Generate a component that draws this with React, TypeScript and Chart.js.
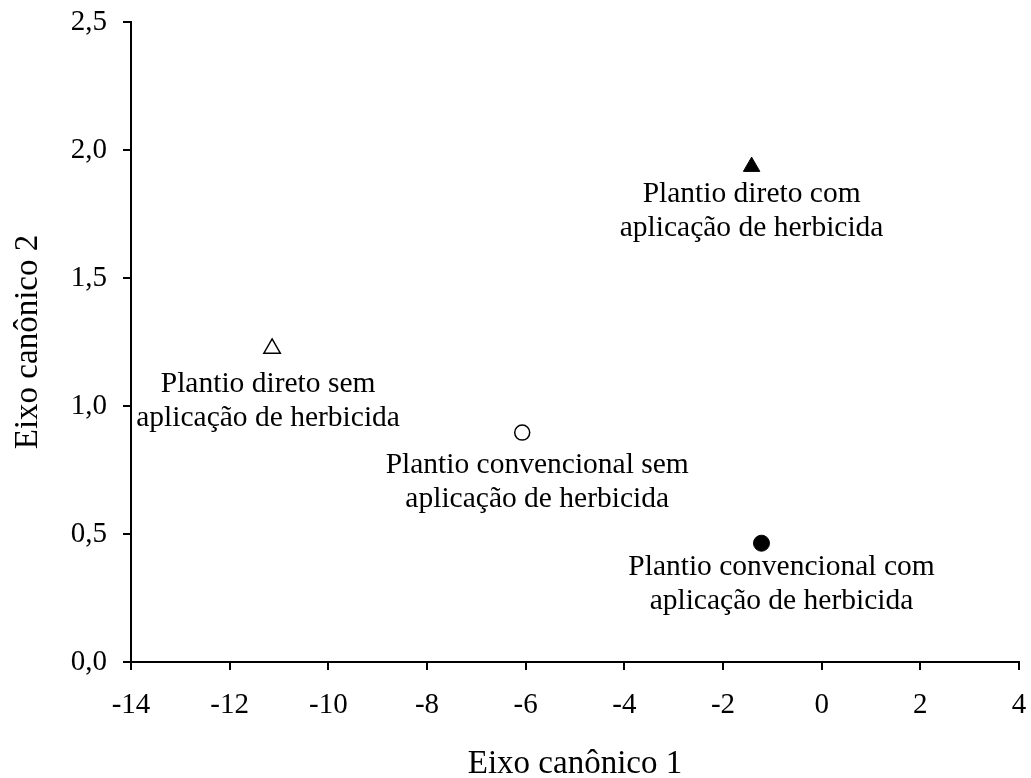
import React, { useEffect, useRef } from "react";
import { Chart, registerables } from "chart.js";

Chart.register(...registerables);

// ---- Data ----
const xValues = [-1.42, -11.14, -6.07, -1.22];
const yValues = [1.935, 1.225, 0.896, 0.464];
const labelLines = [
  ["Plantio direto com", "aplicação de herbicida"],
  ["Plantio direto sem", "aplicação de herbicida"],
  ["Plantio convencional sem", "aplicação de herbicida"],
  ["Plantio convencional com", "aplicação de herbicida"],
];
const xTitle = "Eixo canônico 1";
const yTitle = "Eixo canônico 2";
const xMin = -14;
const xMax = 4;
const xStep = 2;
const yMin = 0;
const yMax = 2.5;
const yStep = 0.5;

// ---- Styles ----
const markerStyles = [
  { pointStyle: "triangle", radius: 9.5, fill: "#000000", border: "#000000", borderWidth: 1 },
  { pointStyle: "triangle", radius: 9.5, fill: "#ffffff", border: "#000000", borderWidth: 1.5 },
  { pointStyle: "circle", radius: 7.5, fill: "#ffffff", border: "#000000", borderWidth: 1.5 },
  { pointStyle: "circle", radius: 8, fill: "#000000", border: "#000000", borderWidth: 1 },
];
const labelOffsets = [
  { dx: 0, dy: 35 },
  { dx: -4, dy: 44 },
  { dx: 15, dy: 40 },
  { dx: 20, dy: 32 },
];
const FONT = "'Liberation Serif', 'Times New Roman', serif";
const LINE_GAP = 34;

const labelPlugin = {
  id: "pointLabels",
  afterDatasetsDraw(chart: any) {
    const ctx = chart.ctx;
    ctx.save();
    ctx.fillStyle = "#000000";
    ctx.font = `29.5px ${FONT}`;
    ctx.textAlign = "center";
    ctx.textBaseline = "alphabetic";
    labelLines.forEach((lines, i) => {
      const meta = chart.getDatasetMeta(i);
      const pt = meta.data[0];
      if (!pt) return;
      const off = labelOffsets[i];
      lines.forEach((line, j) => {
        ctx.fillText(line, pt.x + off.dx, pt.y + off.dy + j * LINE_GAP);
      });
    });
    ctx.restore();
  },
};

const zeroPad = (scale: any) => {
  scale.paddingTop = 0;
  scale.paddingBottom = 0;
  scale.paddingLeft = 0;
  scale.paddingRight = 0;
};

export default function App() {
  const canvasRef = useRef<HTMLCanvasElement | null>(null);

  useEffect(() => {
    if (!canvasRef.current) return;
    const datasets = xValues.map((x, i) => ({
      label: labelLines[i].join(" "),
      data: [{ x, y: yValues[i] }],
      pointStyle: markerStyles[i].pointStyle,
      pointRadius: markerStyles[i].radius,
      pointHoverRadius: markerStyles[i].radius,
      pointBackgroundColor: markerStyles[i].fill,
      pointBorderColor: markerStyles[i].border,
      pointBorderWidth: markerStyles[i].borderWidth,
      showLine: false,
    }));

    const chart = new Chart(canvasRef.current, {
      type: "scatter",
      data: { datasets: datasets as any },
      options: {
        animation: false,
        responsive: false,
        layout: { padding: { top: 22, right: 12, left: 0, bottom: 0 } },
        plugins: {
          legend: { display: false },
          tooltip: { enabled: false },
        },
        scales: {
          x: {
            type: "linear",
            min: xMin,
            max: xMax,
            afterFit: (scale: any) => {
              scale.height = 116;
              zeroPad(scale);
            },
            ticks: {
              stepSize: xStep,
              color: "#000000",
              font: { family: FONT, size: 29 },
              padding: 18,
              maxRotation: 0,
              callback: (v: any) => String(v),
            },
            grid: {
              display: true,
              drawOnChartArea: false,
              drawTicks: true,
              tickLength: 8,
              color: "#000000",
              lineWidth: 2,
            },
            border: { display: true, color: "#000000", width: 2 },
            title: {
              display: true,
              text: xTitle,
              color: "#000000",
              font: { family: FONT, size: 33, lineHeight: 0.8 },
              padding: { top: 0, bottom: 0 },
            },
          },
          y: {
            type: "linear",
            min: yMin,
            max: yMax,
            afterFit: (scale: any) => {
              scale.width = 131;
              zeroPad(scale);
            },
            ticks: {
              stepSize: yStep,
              color: "#000000",
              font: { family: FONT, size: 29 },
              padding: 16,
              callback: (v: any) => Number(v).toFixed(1).replace(".", ","),
            },
            grid: {
              display: true,
              drawOnChartArea: false,
              drawTicks: true,
              tickLength: 8,
              color: "#000000",
              lineWidth: 2,
            },
            border: { display: true, color: "#000000", width: 2 },
            title: {
              display: true,
              text: yTitle,
              color: "#000000",
              font: { family: FONT, size: 33 },
              padding: { top: 9, bottom: 0 },
            },
          },
        },
      },
      plugins: [labelPlugin],
    });
    return () => chart.destroy();
  }, []);

  return (
    <div style={{ position: "fixed", left: 0, top: 0, width: 1031, height: 778, background: "#ffffff" }}>
      <canvas ref={canvasRef} width={1031} height={778} style={{ width: 1031, height: 778, display: "block" }} />
    </div>
  );
}
